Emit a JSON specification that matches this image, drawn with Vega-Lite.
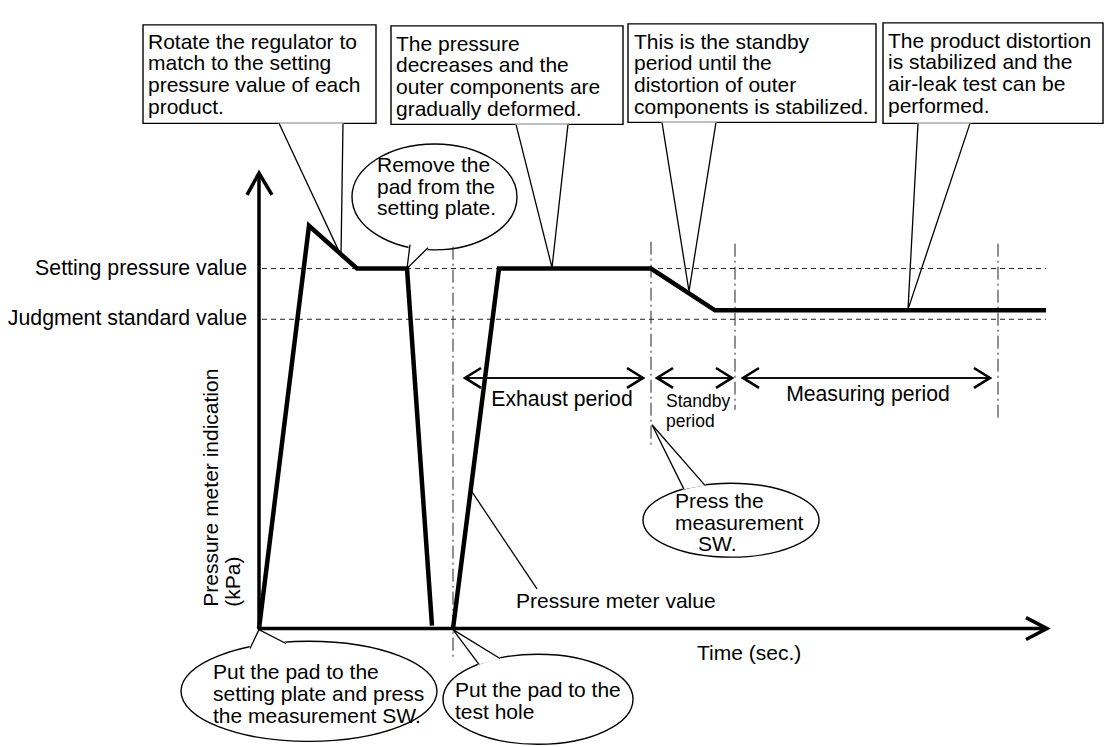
{
  "$schema": "https://vega.github.io/schema/vega-lite/v6.json",
  "width": 1104,
  "height": 747,
  "autosize": {"type": "fit", "contains": "padding"},
  "padding": 0,
  "background": "white",
  "config": {"view": {"stroke": null}},
  "datasets": {
    "guidesH": [
      {"name": "Setting pressure value", "x": 262, "x2": 1046, "y": 270},
      {"name": "Judgment standard value", "x": 262, "x2": 1046, "y": 321}
    ],
    "guidesV": [
      {"name": "test hole", "x": 453, "y": 248, "y2": 662},
      {"name": "press SW", "x": 651, "y": 243, "y2": 447},
      {"name": "standby end", "x": 735, "y": 245, "y2": 412},
      {"name": "measuring end", "x": 998, "y": 245, "y2": 423}
    ],
    "frame": [
      {"id": "yaxis", "o": 1, "x": 259, "y": 633},
      {"id": "yaxis", "o": 2, "x": 259, "y": 175},
      {"id": "yhead", "o": 1, "x": 247, "y": 196},
      {"id": "yhead", "o": 2, "x": 259, "y": 174},
      {"id": "yhead", "o": 3, "x": 272, "y": 196},
      {"id": "xaxis", "o": 1, "x": 258, "y": 632},
      {"id": "xaxis", "o": 2, "x": 1046, "y": 632},
      {"id": "xhead", "o": 1, "x": 1026, "y": 621},
      {"id": "xhead", "o": 2, "x": 1047, "y": 632},
      {"id": "xhead", "o": 3, "x": 1026, "y": 643}
    ],
    "curve": [
      {"seg": "a", "o": 1, "x": 259, "y": 632},
      {"seg": "a", "o": 2, "x": 309, "y": 227},
      {"seg": "a", "o": 3, "x": 357, "y": 270},
      {"seg": "a", "o": 4, "x": 407, "y": 270},
      {"seg": "a", "o": 5, "x": 432, "y": 629},
      {"seg": "b", "o": 1, "x": 453, "y": 632},
      {"seg": "b", "o": 2, "x": 499, "y": 270},
      {"seg": "b", "o": 3, "x": 651, "y": 270},
      {"seg": "b", "o": 4, "x": 715, "y": 312},
      {"seg": "b", "o": 5, "x": 1046, "y": 312}
    ],
    "periods": [
      {"name": "Exhaust", "x": 465, "x2": 643, "y": 380},
      {"name": "Standby", "x": 657, "x2": 732, "y": 380},
      {"name": "Measuring", "x": 743, "x2": 990, "y": 380}
    ],
    "heads": [
      {"id": "e1", "o": 1, "x": 481, "y": 370}, {"id": "e1", "o": 2, "x": 465, "y": 380}, {"id": "e1", "o": 3, "x": 481, "y": 390},
      {"id": "e2", "o": 1, "x": 627, "y": 370}, {"id": "e2", "o": 2, "x": 643, "y": 380}, {"id": "e2", "o": 3, "x": 627, "y": 390},
      {"id": "s1", "o": 1, "x": 673, "y": 370}, {"id": "s1", "o": 2, "x": 657, "y": 380}, {"id": "s1", "o": 3, "x": 673, "y": 390},
      {"id": "s2", "o": 1, "x": 716, "y": 370}, {"id": "s2", "o": 2, "x": 732, "y": 380}, {"id": "s2", "o": 3, "x": 716, "y": 390},
      {"id": "m1", "o": 1, "x": 759, "y": 370}, {"id": "m1", "o": 2, "x": 743, "y": 380}, {"id": "m1", "o": 3, "x": 759, "y": 390},
      {"id": "m2", "o": 1, "x": 974, "y": 370}, {"id": "m2", "o": 2, "x": 990, "y": 380}, {"id": "m2", "o": 3, "x": 974, "y": 390}
    ],
    "boxes": [
      {"id": "b1", "x": 143, "x2": 376, "y": 25, "y2": 124},
      {"id": "b2", "x": 391, "x2": 623, "y": 26, "y2": 125},
      {"id": "b3", "x": 628, "x2": 876, "y": 24, "y2": 123},
      {"id": "b4", "x": 883, "x2": 1103, "y": 23, "y2": 124}
    ],
    "tails": [
      {"id": "b1", "o": 1, "x": 279, "y": 124}, {"id": "b1", "o": 2, "x": 341, "y": 257}, {"id": "b1", "o": 3, "x": 343, "y": 124},
      {"id": "b2", "o": 1, "x": 516, "y": 125}, {"id": "b2", "o": 2, "x": 552, "y": 269}, {"id": "b2", "o": 3, "x": 568, "y": 125},
      {"id": "b3", "o": 1, "x": 662, "y": 123}, {"id": "b3", "o": 2, "x": 689, "y": 293}, {"id": "b3", "o": 3, "x": 716, "y": 123},
      {"id": "b4", "o": 1, "x": 918, "y": 124}, {"id": "b4", "o": 2, "x": 908, "y": 311}, {"id": "b4", "o": 3, "x": 970, "y": 124},
      {"id": "e1", "o": 1, "x": 410, "y": 246}, {"id": "e1", "o": 2, "x": 407, "y": 270}, {"id": "e1", "o": 3, "x": 428, "y": 249},
      {"id": "e2", "o": 1, "x": 250, "y": 652}, {"id": "e2", "o": 2, "x": 259, "y": 633}, {"id": "e2", "o": 3, "x": 286, "y": 647},
      {"id": "e3", "o": 1, "x": 479, "y": 668}, {"id": "e3", "o": 2, "x": 453, "y": 633}, {"id": "e3", "o": 3, "x": 500, "y": 662},
      {"id": "e4", "o": 1, "x": 684, "y": 492}, {"id": "e4", "o": 2, "x": 652, "y": 427}, {"id": "e4", "o": 3, "x": 705, "y": 488},
      {"id": "leader", "o": 1, "x": 471, "y": 493}, {"id": "leader", "o": 2, "x": 537, "y": 592}
    ],
    "ellipses": [
      {"id": "e1", "x": 434.5, "y": 198},
      {"id": "e2", "x": 309, "y": 695},
      {"id": "e3", "x": 538, "y": 703},
      {"id": "e4", "x": 731, "y": 523}
    ],
    "notes": [
      {"role": "left", "x": 148, "y": 43, "text": "Rotate the regulator to\nmatch to the setting\npressure value of each\nproduct."},
      {"role": "left", "x": 396, "y": 45, "text": "The pressure\ndecreases and the\nouter components are\ngradually deformed."},
      {"role": "left", "x": 634, "y": 43, "text": "This is the standby\nperiod until the\ndistortion of outer\ncomponents is stabilized."},
      {"role": "left", "x": 888, "y": 42, "text": "The product distortion\nis stabilized and the\nair-leak test can be\nperformed."},
      {"role": "left", "x": 377, "y": 167, "text": "Remove the\npad from the\nsetting plate."},
      {"role": "left", "x": 213, "y": 677, "text": "Put the pad to the\nsetting plate and press\nthe measurement SW."},
      {"role": "left", "x": 455, "y": 695, "text": "Put the pad to the\ntest hole"},
      {"role": "left", "x": 675, "y": 505, "text": "Press the\nmeasurement"},
      {"role": "left", "x": 698, "y": 548, "text": "SW."},
      {"role": "left", "x": 516, "y": 605, "text": "Pressure meter value"},
      {"role": "left", "x": 697, "y": 658, "text": "Time (sec.)"},
      {"role": "right", "x": 247, "y": 270, "text": "Setting pressure value"},
      {"role": "right", "x": 247, "y": 321, "text": "Judgment standard value"},
      {"role": "center", "x": 562, "y": 402, "text": "Exhaust period"},
      {"role": "center", "x": 868, "y": 397, "text": "Measuring period"},
      {"role": "small", "x": 666, "y": 404, "text": "Standby\nperiod"},
      {"role": "vertical", "x": 212, "y": 610, "text": "Pressure meter indication"},
      {"role": "vertical", "x": 234, "y": 610, "text": "(kPa)"}
    ]
  },
  "encoding": {
    "x": {"field": "x", "type": "quantitative", "scale": {"domain": [0, 1104], "nice": false, "zero": false}, "axis": null},
    "y": {"field": "y", "type": "quantitative", "scale": {"domain": [0, 747], "nice": false, "zero": false, "reverse": true}, "axis": null}
  },
  "layer": [
    {
      "data": {"name": "boxes"},
      "mark": {"type": "rect", "fill": "white", "stroke": "black", "strokeWidth": 1.4},
      "encoding": {"x2": {"field": "x2"}, "y2": {"field": "y2"}}
    },
    {
      "data": {"name": "ellipses"},
      "transform": [{"filter": "datum.id === 'e1'"}],
      "mark": {"type": "point", "filled": true, "fill": "white", "stroke": "black", "strokeWidth": 1.4, "opacity": 1, "size": 27225,
        "shape": "M-1,0C-1,-0.355,-0.552,-0.642,0,-0.642C0.552,-0.642,1,-0.355,1,0C1,0.355,0.552,0.642,0,0.642C-0.552,0.642,-1,0.355,-1,0Z"}
    },
    {
      "data": {"name": "ellipses"},
      "transform": [{"filter": "datum.id === 'e2'"}],
      "mark": {"type": "point", "filled": true, "fill": "white", "stroke": "black", "strokeWidth": 1.4, "opacity": 1, "size": 65536,
        "shape": "M-1,0C-1,-0.216,-0.552,-0.391,0,-0.391C0.552,-0.391,1,-0.216,1,0C1,0.216,0.552,0.391,0,0.391C-0.552,0.391,-1,0.216,-1,0Z"}
    },
    {
      "data": {"name": "ellipses"},
      "transform": [{"filter": "datum.id === 'e3'"}],
      "mark": {"type": "point", "filled": true, "fill": "white", "stroke": "black", "strokeWidth": 1.4, "opacity": 1, "size": 36100,
        "shape": "M-1,0C-1,-0.262,-0.552,-0.474,0,-0.474C0.552,-0.474,1,-0.262,1,0C1,0.262,0.552,0.474,0,0.474C-0.552,0.474,-1,0.262,-1,0Z"}
    },
    {
      "data": {"name": "ellipses"},
      "transform": [{"filter": "datum.id === 'e4'"}],
      "mark": {"type": "point", "filled": true, "fill": "white", "stroke": "black", "strokeWidth": 1.4, "opacity": 1, "size": 30976,
        "shape": "M-1,0C-1,-0.232,-0.552,-0.420,0,-0.420C0.552,-0.420,1,-0.232,1,0C1,0.232,0.552,0.420,0,0.420C-0.552,0.420,-1,0.232,-1,0Z"}
    },
    {
      "data": {"name": "tails"},
      "transform": [{"filter": "datum.id !== 'leader'"}],
      "mark": {"type": "line", "fill": "white", "stroke": "white", "strokeWidth": 2.2, "strokeJoin": "miter"},
      "encoding": {"detail": {"field": "id"}, "order": {"field": "o"}}
    },
    {
      "data": {"name": "tails"},
      "mark": {"type": "line", "color": "black", "strokeWidth": 1.3, "strokeJoin": "miter"},
      "encoding": {"detail": {"field": "id"}, "order": {"field": "o"}}
    },
    {
      "data": {"name": "guidesH"},
      "mark": {"type": "rule", "color": "#222", "strokeWidth": 1, "strokeDash": [5, 4]},
      "encoding": {"x2": {"field": "x2"}}
    },
    {
      "data": {"name": "guidesV"},
      "mark": {"type": "rule", "color": "#222", "strokeWidth": 1, "strokeDash": [13, 4, 2, 4]},
      "encoding": {"y2": {"field": "y2"}}
    },
    {
      "data": {"name": "frame"},
      "mark": {"type": "line", "color": "black", "strokeWidth": 3.5, "strokeJoin": "miter", "strokeCap": "butt"},
      "encoding": {"detail": {"field": "id"}, "order": {"field": "o"}}
    },
    {
      "data": {"name": "curve"},
      "mark": {"type": "line", "color": "black", "strokeWidth": 4.5, "strokeJoin": "miter", "strokeCap": "butt"},
      "encoding": {"detail": {"field": "seg"}, "order": {"field": "o"}}
    },
    {
      "data": {"name": "periods"},
      "mark": {"type": "rule", "color": "#111", "strokeWidth": 2},
      "encoding": {"x2": {"field": "x2"}}
    },
    {
      "data": {"name": "heads"},
      "mark": {"type": "line", "color": "black", "strokeWidth": 2.6, "strokeJoin": "miter"},
      "encoding": {"detail": {"field": "id"}, "order": {"field": "o"}}
    },
    {
      "data": {"name": "notes"},
      "transform": [{"filter": "datum.role === 'left'"}],
      "mark": {"type": "text", "align": "left", "baseline": "middle", "font": "Liberation Sans", "fontSize": 21, "lineHeight": 21.7, "lineBreak": "\n", "color": "black"},
      "encoding": {"text": {"field": "text"}}
    },
    {
      "data": {"name": "notes"},
      "transform": [{"filter": "datum.role === 'right'"}],
      "mark": {"type": "text", "align": "right", "baseline": "middle", "font": "Liberation Sans", "fontSize": 21.3, "color": "black"},
      "encoding": {"text": {"field": "text"}}
    },
    {
      "data": {"name": "notes"},
      "transform": [{"filter": "datum.role === 'center'"}],
      "mark": {"type": "text", "align": "center", "baseline": "middle", "font": "Liberation Sans", "fontSize": 21.2, "color": "black"},
      "encoding": {"text": {"field": "text"}}
    },
    {
      "data": {"name": "notes"},
      "transform": [{"filter": "datum.role === 'small'"}],
      "mark": {"type": "text", "align": "left", "baseline": "middle", "font": "Liberation Sans", "fontSize": 17.5, "lineHeight": 20, "lineBreak": "\n", "color": "black"},
      "encoding": {"text": {"field": "text"}}
    },
    {
      "data": {"name": "notes"},
      "transform": [{"filter": "datum.role === 'vertical'"}],
      "mark": {"type": "text", "align": "left", "baseline": "middle", "angle": 270, "font": "Liberation Sans", "fontSize": 21, "color": "black"},
      "encoding": {"text": {"field": "text"}}
    }
  ]
}
